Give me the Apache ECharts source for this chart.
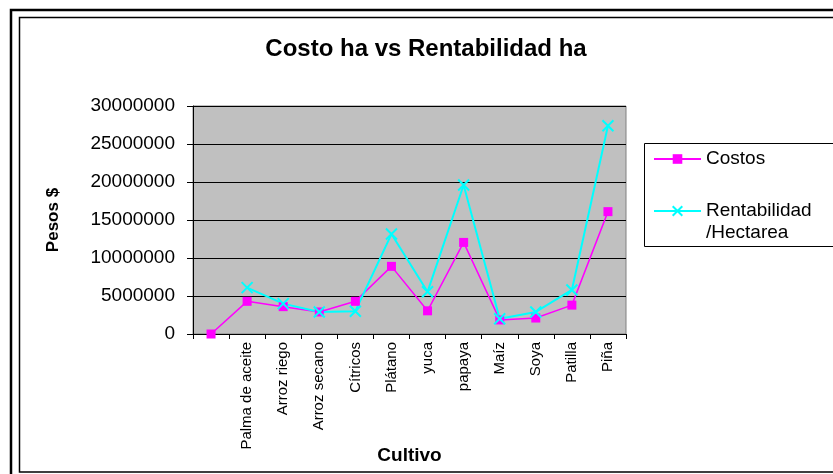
<!DOCTYPE html>
<html>
<head>
<meta charset="utf-8">
<script src="https://cdn.jsdelivr.net/npm/echarts@6/dist/echarts.min.js"></script>
<style>
  html, body { margin: 0; padding: 0; background: #fff; }
  #main { width: 833px; height: 474px; }
</style>
</head>
<body>
<div id="main"></div>
<script>
// categorias del eje X (la primera va vacia, como en la hoja)
const cultivos = ['', 'Palma de aceite', 'Arroz riego', 'Arroz secano', 'Cítricos', 'Plátano',
  'yuca', 'papaya', 'Maíz', 'Soya', 'Patilla', 'Piña'];
// costo por hectarea
const costos = [0, 4300000, 3600000, 2900000, 4300000, 8900000,
  3050000, 12050000, 1850000, 2100000, 3800000, 16100000];
// rentabilidad por hectarea
const rentabilidad = [null, 6100000, 4000000, 2900000, 3000000, 13150000,
  5550000, 19600000, 2000000, 2900000, 5800000, 27400000];
// marcas del eje Y
const yTicks = [0, 5000000, 10000000, 15000000, 20000000, 25000000, 30000000];

const fuente = '"Liberation Sans", Arial, sans-serif';
const cruz = 'path://M0,0L10,10M10,0L0,10';

const myChart = echarts.init(document.getElementById('main'));
const option = {
  backgroundColor: '#ffffff',
  animation: false,
  title: {
    text: 'Costo ha vs Rentabilidad ha',
    left: 426,
    top: 37,
    padding: 0,
    textAlign: 'center',
    textStyle: { fontFamily: fuente, fontSize: 24, fontWeight: 'bold', color: '#000' }
  },
  legend: {
    orient: 'vertical',
    left: 644,
    top: 143,
    padding: [5, 10, 2, 9],
    itemGap: 8,
    itemWidth: 47,
    itemHeight: 12,
    data: ['Costos', 'Rentabilidad /Hectarea'],
    formatter: function (name) {
      return name === 'Costos' ? name : '\nRentabilidad\n/Hectarea';
    },
    textStyle: { fontFamily: fuente, fontSize: 19, color: '#000', lineHeight: 22 }
  },
  grid: {
    left: 193,
    right: 207,
    top: 106,
    bottom: 140,
    show: true,
    backgroundColor: '#c0c0c0',
    borderColor: '#808080',
    borderWidth: 1,
    containLabel: false
  },
  xAxis: {
    type: 'category',
    data: cultivos,
    boundaryGap: true,
    name: 'Cultivo',
    nameLocation: 'middle',
    nameGap: 112,
    nameMoveOverlap: false,
    nameTextStyle: { fontFamily: fuente, fontSize: 19, fontWeight: 'bold', color: '#000' },
    axisLine: { show: true, lineStyle: { color: '#000', width: 1 } },
    axisTick: { show: true, length: 5, alignWithLabel: false, lineStyle: { color: '#000' } },
    axisLabel: {
      interval: 0,
      rotate: 90,
      margin: 8,
      fontFamily: fuente,
      fontSize: 15,
      color: '#000'
    },
    splitLine: { show: false }
  },
  yAxis: {
    type: 'value',
    min: yTicks[0],
    max: yTicks[yTicks.length - 1],
    interval: yTicks[1] - yTicks[0],
    name: 'Pesos $',
    nameLocation: 'middle',
    nameRotate: 90,
    nameGap: 131,
    nameMoveOverlap: false,
    nameTextStyle: { fontFamily: fuente, fontSize: 17, fontWeight: 'bold', color: '#000' },
    axisLine: { show: true, lineStyle: { color: '#000', width: 1 } },
    axisTick: { show: true, length: 6, lineStyle: { color: '#000' } },
    axisLabel: {
      margin: 18,
      fontFamily: fuente,
      fontSize: 19,
      color: '#000',
      formatter: function (v) { return String(v); }
    },
    splitLine: { show: true, lineStyle: { color: '#000', width: 1 } }
  },
  series: [
    {
      name: 'Costos',
      type: 'line',
      data: costos,
      symbol: 'rect',
      symbolSize: 9,
      lineStyle: { color: '#ff00ff', width: 1.5 },
      itemStyle: { color: '#ff00ff' }
    },
    {
      name: 'Rentabilidad /Hectarea',
      type: 'line',
      data: rentabilidad,
      symbol: cruz,
      symbolSize: 11,
      connectNulls: false,
      lineStyle: { color: '#00ffff', width: 2 },
      itemStyle: { color: '#00ffff', borderColor: '#00ffff', borderWidth: 2 }
    }
  ],
  graphic: [
    // doble marco exterior del grafico
    {
      type: 'rect',
      shape: { x: 11, y: 10, width: 900, height: 500 },
      style: { fill: 'none', stroke: '#000', lineWidth: 2.5 },
      silent: true
    },
    {
      type: 'rect',
      shape: { x: 19.5, y: 17.5, width: 900, height: 454.5 },
      style: { fill: 'none', stroke: '#000', lineWidth: 1.5 },
      silent: true
    },
    // marco de la leyenda, cortado por el borde derecho
    {
      type: 'rect',
      z: -1,
      shape: { x: 644.5, y: 143.5, width: 300, height: 103 },
      style: { fill: 'none', stroke: '#000', lineWidth: 1 },
      silent: true
    }
  ]
};
myChart.setOption(option);
window.addEventListener('resize', function () {
  myChart.resize();
});
</script>
</body>
</html>
